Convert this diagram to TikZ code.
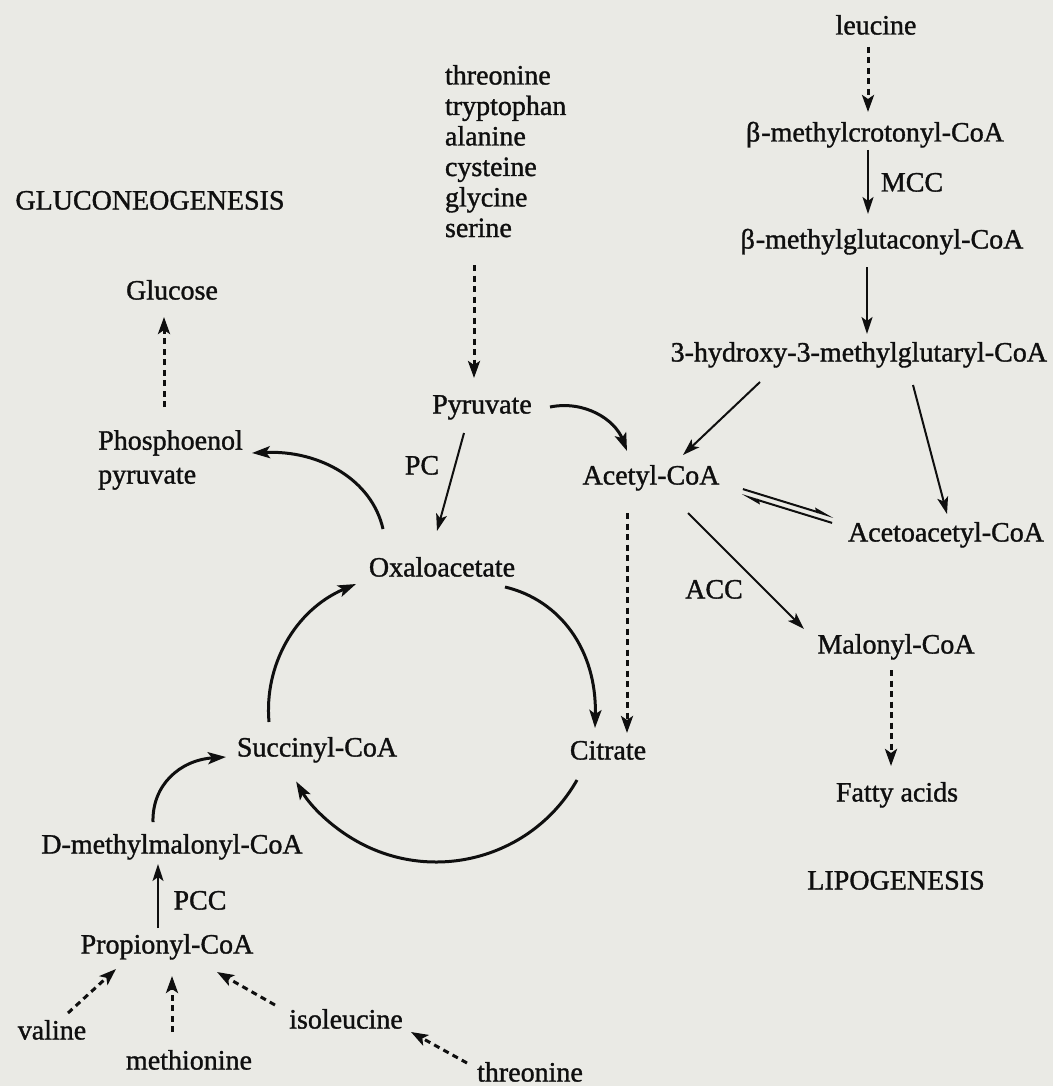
\documentclass[tikz,border=0pt]{standalone}
\usepackage{fontspec}
\setmainfont{Liberation Serif}[FakeBold=1.2]
\usetikzlibrary{arrows.meta}
\definecolor{paper}{RGB}{234,234,229}
\definecolor{ink}{RGB}{15,15,15}
\tikzset{
  lbl/.style={inner sep=0pt, outer sep=0pt, text=ink, font=\fontsize{28}{30}\selectfont, text height=19pt, text depth=6pt},
  sarr/.style={draw=ink, line width=2pt, -{Stealth[length=17pt,width=11pt,inset=4pt]}},
  carr/.style={draw=ink, line width=3pt, -{Stealth[length=18pt,width=12pt,inset=4pt]}},
  darr/.style={draw=ink, line width=3pt, dash pattern=on 6pt off 4.5pt, -{Stealth[length=17pt,width=12pt,inset=4pt]}},
  harp/.style={draw=ink, line width=2pt, -{Stealth[harpoon,length=16pt,width=7pt,inset=2pt]}},
}
\begin{document}
\begin{tikzpicture}[x=1pt,y=-1pt]
\fill[paper] (0,0) rectangle (1053,1086);
\useasboundingbox (0,0) rectangle (1053,1086);

% ---------- nodes ----------
\node[lbl] (leu) at (876,28) {leucine};
\node[lbl] (mcrot) at (875,135) {β\kern1pt-methylcrotonyl-CoA};
\node[lbl] (mcc) at (912,185) {MCC};
\node[lbl] (mglut) at (882,242) {β\kern1pt-methylglutaconyl-CoA};
\node[lbl, anchor=east] (hmg) at (1047,355) {3-hydroxy-3-methylglutaryl-CoA};
\foreach \t [count=\i] in {threonine,tryptophan,alanine,cysteine,glycine,serine}
  \node[lbl, anchor=west] (aa\i) at (445,{78+30.5*(\i-1)}) {\t};
\node[lbl] (pyr) at (482,407) {Pyruvate};
\node[lbl] (pc) at (422,468) {PC};
\node[lbl] (acoa) at (651,478) {Acetyl-CoA};
\node[lbl] (acac) at (946,535) {Acetoacetyl-CoA};
\node[lbl] (acc) at (714,592) {ACC};
\node[lbl] (mal) at (896,647) {Malonyl-CoA};
\node[lbl] (fa) at (897,795) {Fatty acids};
\node[lbl] (lipo) at (896,883) {LIPOGENESIS};
\node[lbl] (gng) at (150,203) {GLUCONEOGENESIS};
\node[lbl] (glc) at (172,293) {Glucose};
\node[inner sep=0pt, text=ink, font=\fontsize{28}{34}\selectfont, align=left, anchor=north west] (pep) at (98,430) {Phosphoenol\\pyruvate};
\node[lbl] (oaa) at (442,570) {Oxaloacetate};
\node[lbl] (cit) at (608,753) {Citrate};
\node[lbl] (suc) at (317,750) {Succinyl-CoA};
\node[lbl] (dmm) at (172,847) {D-methylmalonyl-CoA};
\node[lbl] (pcc) at (200,903) {PCC};
\node[lbl] (prop) at (167,947) {Propionyl-CoA};
\node[lbl] (val) at (52,1033) {valine};
\node[lbl] (met) at (189,1063) {methionine};
\node[lbl] (ile) at (346,1022) {isoleucine};
\node[lbl] (thr) at (530,1075) {threonine};

% ---------- connector end points ----------
\coordinate (leuS) at (868,47);   \coordinate (mcrotN) at (868,112);
\coordinate (mcrotS) at (868,150); \coordinate (mglutN) at (868,214);
\coordinate (mglutS) at (867,267); \coordinate (hmgN) at (867,334);
\coordinate (hmgL) at (760,382);  \coordinate (acoaNE) at (683,455);
\coordinate (hmgR) at (913,385);  \coordinate (acacN) at (947,514);
\coordinate (pyrE) at (550,407);  \coordinate (acoaN) at (627,451);
\coordinate (pyrS) at (464,433);  \coordinate (oaaN) at (437,531);
\coordinate (aaS) at (474,265);   \coordinate (pyrN) at (474,378);
\coordinate (acoaS) at (627,513); \coordinate (citN) at (627,733);
\coordinate (eqA) at (742,492);   \coordinate (eqB) at (833,520);
\coordinate (acoaSE) at (688,513); \coordinate (malNW) at (804,629);
\coordinate (malS) at (891,670);  \coordinate (faN) at (891,766);
\coordinate (oaaNW) at (383,529); \coordinate (pepE) at (252,453);
\coordinate (pepN) at (164,407);  \coordinate (glcS) at (164,317);
\coordinate (oaaE) at (505,587);  \coordinate (citNW) at (595,728);
\coordinate (sucN) at (269,722);  \coordinate (oaaW) at (356,584);
\coordinate (citS) at (577,780);
\coordinate (dmmN) at (153,822);  \coordinate (sucW) at (226,757);
\coordinate (propN) at (158,928); \coordinate (dmmS) at (158,864);
\coordinate (valNE) at (68,1013); \coordinate (propSW) at (116,969);
\coordinate (metN) at (172,1032); \coordinate (propS) at (172,976);
\coordinate (ileNW) at (275,1005); \coordinate (propSE) at (217,972);
\coordinate (thrNW) at (467,1063); \coordinate (ileE) at (411,1032);

% ---------- connectors ----------
\draw[darr] (leuS) -- (mcrotN);
\draw[sarr] (mcrotS) -- (mglutN);
\draw[sarr] (mglutS) -- (hmgN);
\draw[sarr] (hmgL) -- (acoaNE);
\draw[sarr] (hmgR) -- (acacN);
\draw[carr] (pyrE) .. controls (585,400) and (615,420) .. (acoaN);
\draw[sarr] (pyrS) -- (oaaN);
\draw[darr] (aaS) -- (pyrN);
\draw[darr] (acoaS) -- (citN);
\draw[harp] ([shift={(0.9,-2.9)}]eqA) -- ([shift={(0.9,-2.9)}]eqB);
\draw[harp] ([shift={(-0.9,2.9)}]eqB) -- ([shift={(-0.9,2.9)}]eqA);
\draw[sarr] (acoaSE) -- (malNW);
\draw[darr] (malS) -- (faN);
\draw[carr] (oaaNW) .. controls (372,480) and (320,450) .. (pepE);
\draw[darr] (pepN) -- (glcS);
\draw[carr] (oaaE) .. controls (560,600) and (597,650) .. (citNW);
\draw[carr] (sucN) .. controls (264,665) and (295,610) .. (oaaW);
\draw[carr] (citS) arc[start angle=-29.6, end angle=-149.8, radius=162pt];
\draw[carr] (dmmN) .. controls (152,785) and (180,760) .. (sucW);
\draw[sarr] (propN) -- (dmmS);
\draw[darr] (valNE) -- (propSW);
\draw[darr] (metN) -- (propS);
\draw[darr] (ileNW) -- (propSE);
\draw[darr] (thrNW) -- (ileE);
\end{tikzpicture}
\end{document}
